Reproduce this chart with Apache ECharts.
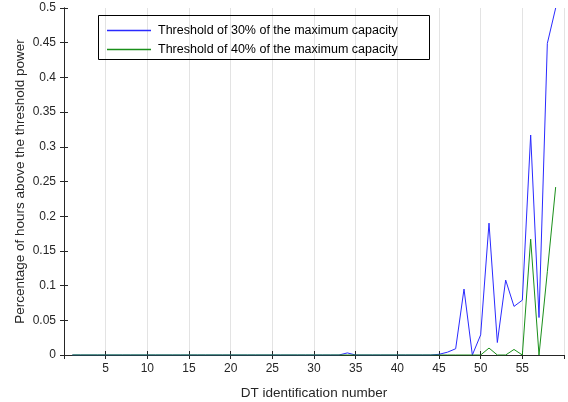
<!DOCTYPE html>
<html>
<head>
<meta charset="utf-8">
<script src="https://cdn.jsdelivr.net/npm/echarts@6/dist/echarts.min.js"></script>
<style>
  html, body { margin: 0; padding: 0; background: #fff; }
  #chart { width: 568px; height: 402px; }
</style>
</head>
<body>
<div id="chart"></div>
<script>
// DT identification numbers
const dtIds = [1, 2, 3, 4, 5, 6, 7, 8, 9, 10, 11, 12, 13, 14, 15, 16, 17, 18, 19, 20,
  21, 22, 23, 24, 25, 26, 27, 28, 29, 30, 31, 32, 33, 34, 35, 36, 37, 38, 39, 40,
  41, 42, 43, 44, 45, 46, 47, 48, 49, 50, 51, 52, 53, 54, 55, 56, 57, 58, 59]

// 30% threshold
const share30 = [0, 0, 0, 0, 0, 0, 0, 0, 0, 0, 0, 0, 0, 0, 0, 0, 0, 0, 0, 0,
  0, 0, 0, 0, 0, 0, 0, 0, 0, 0, 0, 0, 0, 0.003, 0, 0, 0, 0, 0, 0,
  0, 0, 0, 0, 0.001, 0.004, 0.009, 0.095, 0, 0.029, 0.19, 0.018, 0.108, 0.07, 0.079, 0.317, 0.054, 0.449, 0.5]

// 40% threshold
const share40 = [0, 0, 0, 0, 0, 0, 0, 0, 0, 0, 0, 0, 0, 0, 0, 0, 0, 0, 0, 0,
  0, 0, 0, 0, 0, 0, 0, 0, 0, 0, 0, 0, 0, 0, 0, 0, 0, 0, 0, 0,
  0, 0, 0, 0, 0, 0, 0, 0, 0, 0, 0.01, 0, 0, 0.008, 0, 0.167, 0, 0.12, 0.242]

const seriesNames = ['Threshold of 30% of the maximum capacity', 'Threshold of 40% of the maximum capacity']

const pairs = (ys) => dtIds.map((x, i) => [x, ys[i]])

const font = 'Liberation Sans, Arial, sans-serif'
const axisGray = '#262626'

const chart = echarts.init(document.getElementById('chart'))

const option = {
  animation: false,
  textStyle: { fontFamily: font },
  grid: { left: 64, right: 4, top: 8, bottom: 47, outerBoundsMode: 'none', containLabel: false },
  legend: {
    orient: 'vertical',
    left: 107,
    top: 24,
    padding: 0,
    itemGap: 6,
    itemWidth: 44,
    itemHeight: 1.5,
    icon: 'rect',
    textStyle: { fontFamily: font, fontSize: 12.5, color: '#000', padding: [0, 0, 0, 2] },
    data: seriesNames
  },
  graphic: [{
    type: 'rect',
    shape: { x: 98.5, y: 15.5, width: 331, height: 44 },
    style: { fill: 'rgba(255,255,255,0)', stroke: '#000', lineWidth: 1 },
    z: 100
  }],
  xAxis: [{
    type: 'value',
    min: 0,
    max: 60,
    interval: 5,
    name: 'DT identification number',
    nameLocation: 'middle',
    nameGap: 31,
    nameTextStyle: { fontSize: 13.5, color: axisGray },
    axisLine: { lineStyle: { color: axisGray } },
    axisTick: { inside: true, length: 4, lineStyle: { color: axisGray } },
    axisLabel: { fontSize: 12, color: axisGray, showMinLabel: false, showMaxLabel: false, margin: 8 },
    splitLine: { show: true, lineStyle: { color: '#e3e3e3' } }
  }, {
    type: 'value',
    position: 'top',
    min: 0,
    max: 60,
    interval: 5,
    axisLine: { show: true, lineStyle: { color: axisGray } },
    axisTick: { show: true, inside: true, length: 4, lineStyle: { color: axisGray } },
    axisLabel: { show: false },
    splitLine: { show: false }
  }],
  yAxis: [{
    type: 'value',
    min: 0,
    max: 0.5,
    interval: 0.05,
    name: 'Percentage of hours above the threshold power',
    nameLocation: 'middle',
    nameGap: 37,
    nameMoveOverlap: false,
    nameTextStyle: { fontSize: 13.5, color: axisGray },
    axisLine: { show: true, lineStyle: { color: axisGray } },
    axisTick: { show: true, inside: true, length: 4, lineStyle: { color: axisGray } },
    axisLabel: { fontSize: 12, color: axisGray, margin: 8 },
    splitLine: { show: false }
  }, {
    type: 'value',
    position: 'right',
    min: 0,
    max: 0.5,
    interval: 0.05,
    axisLine: { show: true, lineStyle: { color: axisGray } },
    axisTick: { show: true, inside: true, length: 4, lineStyle: { color: axisGray } },
    axisLabel: { show: false },
    splitLine: { show: false }
  }],
  series: [{
    name: seriesNames[0],
    type: 'line',
    data: pairs(share30),
    showSymbol: false,
    color: '#2a2aff',
    lineStyle: { width: 1 },
    clip: true
  }, {
    name: seriesNames[1],
    type: 'line',
    data: pairs(share40),
    showSymbol: false,
    color: '#1a8f1a',
    lineStyle: { width: 1 },
    clip: true
  }]
}

chart.setOption(option)
</script>
</body>
</html>
